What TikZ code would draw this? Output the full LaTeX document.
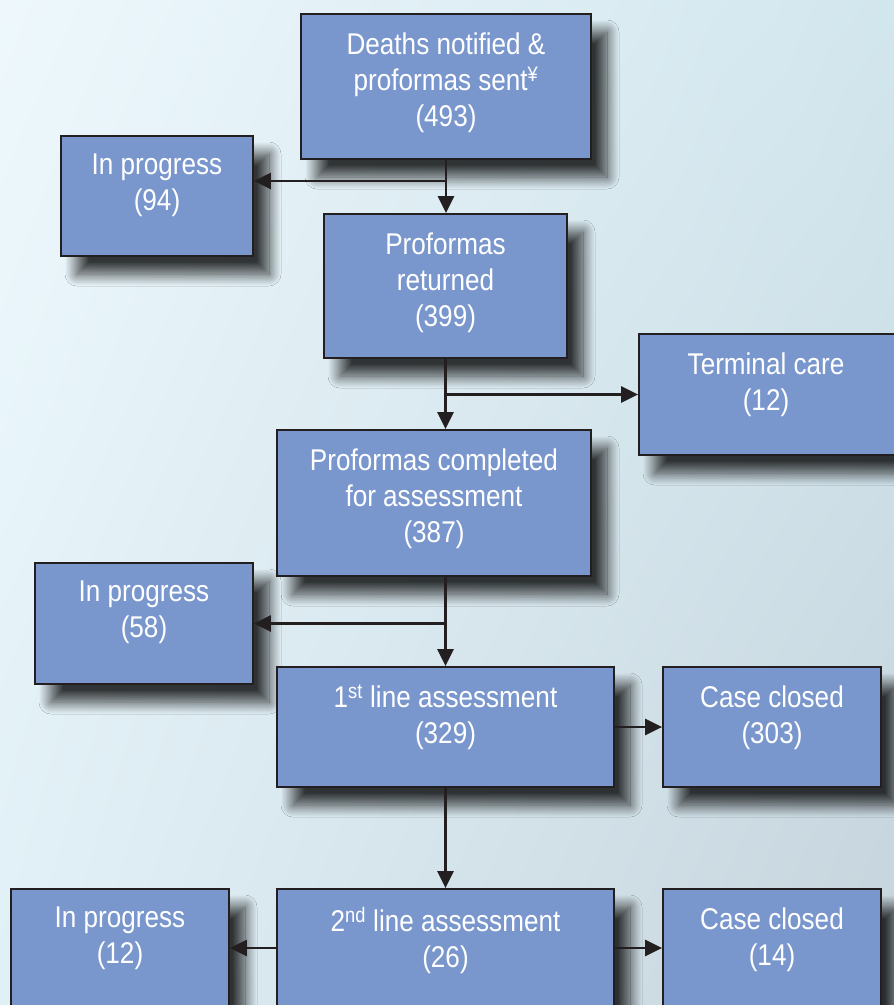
\documentclass[tikz,border=0pt]{standalone}
\usepackage{fontspec}
\setmainfont{Liberation Sans}[FakeStretch=0.87]
\usepackage{xcolor}
\usetikzlibrary{positioning, arrows.meta, shadows.blur, shadings}

\definecolor{boxblue}{HTML}{7A97CD}
\definecolor{edgeblack}{HTML}{231F20}
\definecolor{skyUL}{RGB}{238,248,252}
\definecolor{skyUR}{RGB}{210,230,238}
\definecolor{skyLL}{RGB}{224,240,246}
\definecolor{skyLR}{RGB}{198,212,220}

\begin{document}
\begin{tikzpicture}[x=1pt,y=-1pt,>={Triangle[length=17pt,width=16pt]}]
       \tikzstyle{box}=[draw=edgeblack,line width=1.8pt,fill=boxblue,rectangle,inner sep=0pt,
                        blur shadow={shadow xshift=16pt,shadow yshift=-18pt,shadow blur radius=12pt,shadow blur steps=20,shadow opacity=78}]
       \tikzstyle{lbl}=[align=center,inner sep=0pt,text=white,font=\fontsize{30}{36}\selectfont,node distance=19pt]
       \tikzstyle{conn}=[->,line width=2.4pt,draw=edgeblack]

       % background
       \useasboundingbox (0,0) rectangle (894,1005);
       \shade[upper left=skyUL,upper right=skyUR,lower left=skyLL,lower right=skyLR]
              (0,0) rectangle (894,1005);

       % boxes
       \node[box,minimum width=290pt,minimum height=145pt] (A)    at (446,86.5)  {};
       \node[box,minimum width=192pt,minimum height=120pt] (IP1)  at (157,196)   {};
       \node[box,minimum width=243pt,minimum height=144pt] (B)    at (445.5,286) {};
       \node[box,minimum width=262pt,minimum height=121pt] (TC)   at (770,394.5) {};
       \node[box,minimum width=314pt,minimum height=146pt] (C)    at (434,503)   {};
       \node[box,minimum width=218pt,minimum height=121pt] (IP2)  at (144,623.5) {};
       \node[box,minimum width=337pt,minimum height=120pt] (D)    at (445.5,727) {};
       \node[box,minimum width=218pt,minimum height=120pt] (CC1)  at (772,727)   {};
       \node[box,minimum width=337pt,minimum height=124pt] (E)    at (445.5,951) {};
       \node[box,minimum width=218pt,minimum height=124pt] (IP3)  at (120,951)   {};
       \node[box,minimum width=218pt,minimum height=124pt] (CC2)  at (772,951)   {};

       % texts
       \node[lbl,below=of A.north]   (A-t)   {Deaths notified \&\\proformas sent\textsuperscript{¥}\\(493)};
       \node[lbl,below=of IP1.north] (IP1-t) {In progress\\(94)};
       \node[lbl,below=of B.north]   (B-t)   {Proformas\\returned\\(399)};
       \node[lbl,below=of TC.north,xshift=-4pt] (TC-t) {Terminal care\\(12)};
       \node[lbl,below=of C.north]   (C-t)   {Proformas completed\\for assessment\\(387)};
       \node[lbl,below=of IP2.north] (IP2-t) {In progress\\(58)};
       \node[lbl,below=of D.north]   (D-t)   {1\textsuperscript{st} line assessment\\(329)};
       \node[lbl,below=of CC1.north] (CC1-t) {Case closed\\(303)};
       \node[lbl,below=of E.north]   (E-t)   {2\textsuperscript{nd} line assessment\\(26)};
       \node[lbl,below=of IP3.north] (IP3-t) {In progress\\(12)};
       \node[lbl,below=of CC2.north] (CC2-t) {Case closed\\(14)};

       % junctions
       \coordinate (j1) at (446,181);
       \coordinate (j2) at (B.south |- TC.west);
       \coordinate (j3) at (D.north |- IP2.east);

       % arrows
       \draw[conn] (A.south) -- (A.south |- B.north);
       \draw[conn] (j1) -- (j1 -| IP1.east);
       \draw[conn] (B.south) -- (B.south |- C.north);
       \draw[conn] (j2) -- (TC.west);
       \draw[conn] (D.north |- C.south) -- (D.north);
       \draw[conn] (j3) -- (IP2.east);
       \draw[conn] (D.east) -- (CC1.west);
       \draw[conn] (D.south) -- (E.north);
       \draw[conn] (E.west |- 0,948) -- (IP3.east |- 0,948);
       \draw[conn] (E.east |- 0,948) -- (CC2.west |- 0,948);
\end{tikzpicture}
\end{document}
